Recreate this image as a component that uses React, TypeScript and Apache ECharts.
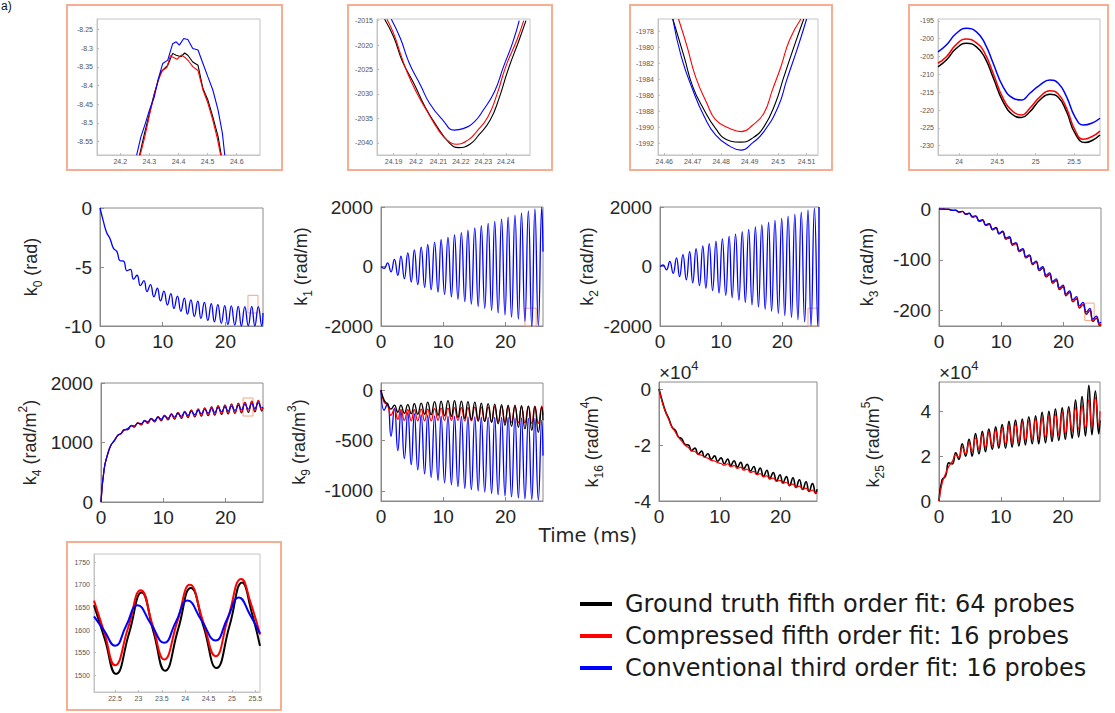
import React, { useEffect, useRef } from 'react';
import * as echarts from 'echarts';

// ---------- shared time samples (ms) for the main panels ----------
const T = [0, 0.5, 1.05, 1.6, 2.15, 2.7, 3.2, 3.75, 4.3, 4.85, 5.35, 5.9, 6.45, 7.0, 7.5, 8.05, 8.6, 9.15, 9.65, 10.2,
  10.75, 11.3, 11.8, 12.35, 12.9, 13.45, 13.95, 14.5, 15.05, 15.6, 16.1, 16.65, 17.2, 17.75, 18.25, 18.8, 19.35, 19.9, 20.4, 20.95,
  21.5, 22.05, 22.55, 23.1, 23.65, 24.2, 24.7, 25.25, 25.8, 26.0];

// ---------- main panel values ----------
const k0Blue = [0, -1.05, -2.07, -2.6, -3.42, -3.7, -4.47, -4.5, -5.32, -5.2, -6.03, -5.7, -6.58, -6.15, -7.08, -6.5, -7.52, -6.8, -7.87, -7.05,
  -8.22, -7.26, -8.51, -7.47, -8.75, -7.63, -8.99, -7.79, -9.18, -7.9, -9.36, -8.0, -9.53, -8.11, -9.65, -8.19, -9.77, -8.27, -9.87, -8.3,
  -9.92, -8.34, -9.99, -8.35, -9.98, -8.33, -9.99, -8.35, -9.98, -8.9];

const k1Blue = [0, -60, 120, -180, 240, -300, 350, -410, 460, -520, 560, -610, 650, -700, 740, -780, 820, -860, 900, -940,
  980, -1020, 1060, -1100, 1140, -1180, 1220, -1260, 1300, -1340, 1370, -1410, 1450, -1480, 1520, -1560, 1590, -1630, 1660, -1700,
  1730, -1770, 1800, -1840, 1870, -2040, 1940, -1990, 1990, 500];

const k2Blue = [0, 50, -110, 170, -230, 290, -340, 400, -450, 500, -550, 600, -640, 690, -730, 770, -810, 850, -890, 930,
  -970, 1010, -1050, 1090, -1130, 1170, -1210, 1250, -1290, 1330, -1360, 1400, -1440, 1480, -1510, 1550, -1580, 1620, -1650, 1690,
  -1720, 1760, -1790, 1830, -1860, 1900, -1993, 1960, -1990, 2000];

const k3Black = [0, 0, -0.7, -0.8, -2.8, -2.5, -6.3, -4.9, -10.5, -8.7, -16, -14.7, -24.5, -22.3, -32.4, -30, -41.2, -37.6, -49, -44.9,
  -59.3, -56.6, -71, -68.3, -83.8, -80.1, -96, -92.4, -109.2, -104.7, -121.4, -116.5, -133.6, -128.8, -145.8, -140.6, -158.5, -153, -170.6, -164.4,
  -182.7, -176.8, -194.8, -188.2, -206.9, -199.6, -221, -215, -229, -227];
const k3Red = [0, 0, -0.5, -0.6, -2.6, -2.3, -6.1, -4.7, -10.3, -8.5, -15.4, -14.1, -23.9, -21.7, -31.8, -29.4, -40.6, -37, -48.4, -44.3,
  -58.7, -56, -70.4, -67.7, -83.2, -79.5, -95.4, -91.8, -108.6, -104.1, -120.2, -115.3, -132.4, -127.6, -144.6, -139.4, -157.3, -151.8, -169.4, -163.2,
  -181.5, -175.6, -193.6, -187, -205.7, -198.4, -220.5, -214, -228, -225.9];
const k3Blue = [0, 0, -0.7, -0.8, -2.8, -2.5, -5.8, -4.4, -10, -8.2, -14.5, -13.2, -23, -20.8, -30.9, -28.5, -39.7, -36.1, -47.5, -43.4,
  -56.8, -54.1, -68.5, -65.8, -81.3, -77.6, -93.5, -89.9, -106.7, -102.2, -117.9, -113, -130.1, -125.3, -142.3, -137.1, -155, -149.5, -167.1, -160.9,
  -178.2, -172.3, -190.3, -183.7, -202.4, -195.1, -216.5, -210.5, -224.5, -222.5];

const k4Black = [0, 550, 795, 958, 1030, 1123, 1145, 1218, 1215, 1288, 1260, 1332, 1296, 1371, 1322, 1405, 1345, 1434, 1364, 1458,
  1380, 1482, 1394, 1503, 1407, 1523, 1419, 1543, 1431, 1562, 1441, 1580, 1451, 1598, 1461, 1614, 1471, 1629, 1480, 1644,
  1489, 1659, 1498, 1674, 1507, 1689, 1516, 1702, 1528, 1580];
const k4Red = [0, 550, 796, 957, 1031, 1122, 1147, 1216, 1217, 1286, 1263, 1329, 1299, 1368, 1326, 1402, 1350, 1431, 1372, 1456,
  1389, 1480, 1403, 1501, 1417, 1521, 1429, 1541, 1441, 1560, 1453, 1578, 1464, 1596, 1475, 1612, 1484, 1626, 1494, 1641,
  1503, 1656, 1512, 1671, 1521, 1695, 1538, 1710, 1545, 1590];
const k4Blue = [0, 550, 798, 954, 1035, 1117, 1153, 1209, 1233, 1277, 1281, 1322, 1318, 1363, 1347, 1396, 1371, 1423, 1392, 1444,
  1410, 1467, 1426, 1486, 1441, 1504, 1455, 1522, 1469, 1539, 1482, 1555, 1494, 1570, 1505, 1585, 1516, 1598, 1527, 1612,
  1538, 1625, 1548, 1639, 1559, 1652, 1570, 1665, 1580, 1600];

const k9Blue = [0, -200, -130, -460, -180, -600, -210, -680, -225, -740, -235, -790, -245, -830, -250, -865, -255, -895, -258, -920,
  -260, -940, -262, -958, -262, -975, -265, -988, -265, -1000, -268, -1012, -270, -1025, -270, -1037, -272, -1050, -272, -1060,
  -275, -1070, -275, -1078, -278, -1085, -280, -1090, -300, -650];
const k9Red = [0, -120, -150, -250, -190, -290, -195, -300, -195, -305, -195, -305, -190, -305, -190, -305, -185, -300, -180, -300,
  -180, -300, -175, -300, -175, -305, -175, -305, -170, -310, -170, -310, -170, -315, -165, -315, -165, -320, -165, -320,
  -165, -325, -165, -325, -160, -330, -160, -330, -160, -250];
const k9Black = [0, -100, -140, -190, -150, -220, -150, -230, -145, -235, -135, -240, -130, -240, -120, -245, -115, -250, -110, -255,
  -105, -260, -105, -270, -110, -280, -115, -290, -120, -300, -130, -310, -135, -320, -140, -335, -145, -350, -150, -360,
  -150, -370, -155, -385, -160, -400, -165, -420, -170, -300];

const k16Black = [0, -4000, -7900, -10500, -13600, -14800, -17100, -17800, -19800, -20000, -22000, -21100, -23300, -22200, -24300, -23100, -25100, -23900, -25800, -24600,
  -26700, -25000, -27300, -25600, -27900, -26200, -28500, -26900, -29300, -27700, -30400, -28200, -31200, -29000, -32000, -29800, -32800, -30600, -33500, -31300,
  -34500, -31700, -35200, -32400, -35900, -33100, -36600, -33800, -37300, -35800];
const k16Red = [0, -4500, -8100, -10900, -13700, -15400, -17300, -18600, -20100, -20900, -22100, -22300, -23400, -23600, -24400, -24700, -25500, -25700, -26300, -26600,
  -27200, -26700, -27800, -27300, -28400, -27900, -29000, -28600, -29800, -29400, -30600, -30200, -31400, -31000, -32200, -31800, -33000, -32600, -33700, -33300,
  -34400, -34000, -35100, -34700, -35800, -35400, -36500, -36100, -37200, -36900];

const k25Black = [0, 9500, 11000, 17000, 16500, 21500, 18500, 25500, 20000, 27500, 20000, 30000, 21000, 31000, 22000, 32000, 23000, 33000, 23500, 34000,
  23500, 35500, 24000, 36000, 24500, 36500, 25000, 37500, 25500, 38000, 25500, 39500, 26000, 40000, 26500, 41000, 27000, 41500, 27500, 42000,
  28000, 45000, 28500, 46500, 29000, 51500, 29500, 49000, 30000, 36000];
const k25Red = [0, 8000, 12000, 15500, 17500, 20500, 19500, 24000, 21000, 26000, 22000, 28000, 23000, 29500, 24000, 30500, 24500, 31500, 25000, 32500,
  25500, 33500, 26000, 34000, 26500, 35000, 27000, 35500, 27500, 36500, 28000, 37000, 28500, 38000, 29000, 38500, 29500, 39500, 30000, 40000,
  31000, 41500, 32000, 42500, 32500, 45000, 33000, 46000, 33500, 40000];

// ---------- zoom inset values [time, value] ----------
const ins0Black = [[24.266, -8.587], [24.283, -8.529], [24.3, -8.475], [24.317, -8.421], [24.34, -8.363], [24.363, -8.346], [24.38, -8.314], [24.392, -8.319], [24.409, -8.323], [24.421, -8.313], [24.432, -8.319], [24.449, -8.337], [24.467, -8.346], [24.484, -8.408], [24.501, -8.439], [24.518, -8.484], [24.536, -8.537], [24.547, -8.587]];
const ins0Red = [[24.268, -8.587], [24.285, -8.535], [24.3, -8.48], [24.315, -8.43], [24.33, -8.385], [24.345, -8.36], [24.36, -8.352], [24.372, -8.32], [24.385, -8.326], [24.395, -8.33], [24.41, -8.318], [24.422, -8.325], [24.435, -8.335], [24.45, -8.35], [24.467, -8.36], [24.484, -8.412], [24.5, -8.445], [24.517, -8.49], [24.533, -8.54], [24.545, -8.587]];
const ins0Blue = [[24.256, -8.587], [24.271, -8.537], [24.286, -8.502], [24.3, -8.466], [24.317, -8.43], [24.331, -8.381], [24.346, -8.341], [24.363, -8.332], [24.38, -8.288], [24.392, -8.283], [24.403, -8.292], [24.418, -8.274], [24.432, -8.277], [24.449, -8.301], [24.467, -8.305], [24.484, -8.341], [24.501, -8.377], [24.518, -8.412], [24.536, -8.466], [24.551, -8.529], [24.559, -8.587]];

const ins1Black = [[24.186, -2014.7], [24.19, -2018.3], [24.194, -2023.4], [24.199, -2027.8], [24.204, -2032.6], [24.209, -2036.4], [24.215, -2040.1], [24.219, -2041], [24.224, -2040.3], [24.228, -2038.4], [24.233, -2035.4], [24.237, -2030.9], [24.241, -2025.1], [24.246, -2018.9], [24.249, -2015]];
const ins1Red = [[24.187, -2014.7], [24.19, -2017.6], [24.193, -2021.7], [24.196, -2025.5], [24.2, -2029.5], [24.205, -2033.6], [24.21, -2037.4], [24.214, -2039.5], [24.218, -2040.3], [24.223, -2039.5], [24.227, -2037.7], [24.232, -2034.7], [24.236, -2030.2], [24.24, -2024.4], [24.245, -2018.9], [24.248, -2015]];
const ins1Blue = [[24.189, -2014.7], [24.193, -2018.6], [24.197, -2023.7], [24.202, -2028.2], [24.206, -2031.9], [24.212, -2035.4], [24.217, -2037.4], [24.221, -2037.1], [24.226, -2035.7], [24.23, -2033.3], [24.235, -2029.5], [24.239, -2024.4], [24.243, -2019.6], [24.246, -2015]];

const ins2Black = [[24.463, -1976.5], [24.467, -1981.2], [24.47, -1984.9], [24.474, -1987.8], [24.478, -1990.1], [24.482, -1991.5], [24.487, -1991.8], [24.491, -1991.3], [24.495, -1989.9], [24.499, -1987], [24.502, -1983.7], [24.506, -1979.5], [24.509, -1976.5]];
const ins2Red = [[24.465, -1976.5], [24.468, -1979.9], [24.471, -1983.7], [24.475, -1987], [24.478, -1989], [24.483, -1990.1], [24.487, -1990.5], [24.491, -1989.7], [24.495, -1988.2], [24.498, -1985.3], [24.501, -1982.4], [24.504, -1979.1], [24.508, -1976.5]];
const ins2Blue = [[24.463, -1976.5], [24.466, -1981.2], [24.47, -1985.3], [24.474, -1988.6], [24.478, -1990.9], [24.483, -1992.3], [24.487, -1992.8], [24.491, -1991.9], [24.495, -1990.5], [24.5, -1987.4], [24.503, -1984.1], [24.507, -1979.9], [24.51, -1976.5]];

const ins3Black = [[23.725, -207.9], [23.834, -206], [23.965, -202.7], [24.096, -201.3], [24.227, -202.3], [24.336, -205.3], [24.445, -210.9], [24.575, -217.7], [24.706, -221.4], [24.815, -222.1], [24.924, -220.5], [25.055, -217.2], [25.186, -215.6], [25.295, -216.4], [25.404, -220.5], [25.513, -226.5], [25.644, -229.1], [25.731, -228.6], [25.84, -227]];
const ins3Red = [[23.725, -206.9], [23.834, -205.1], [23.965, -201.6], [24.096, -200.1], [24.227, -201.2], [24.336, -204.1], [24.445, -209.7], [24.575, -216.7], [24.706, -220.5], [24.815, -221.4], [24.924, -219.5], [25.055, -216.3], [25.186, -214.6], [25.295, -215.5], [25.404, -219.5], [25.513, -225.6], [25.622, -228.2], [25.731, -227.5], [25.84, -225.9]];
const ins3Blue = [[23.725, -203.7], [23.834, -201.8], [23.965, -198.5], [24.096, -197.1], [24.227, -198.1], [24.336, -201.3], [24.445, -206.9], [24.575, -213.5], [24.706, -216.7], [24.815, -217.2], [24.924, -215.3], [25.055, -213], [25.186, -211.6], [25.295, -212.5], [25.404, -216.3], [25.513, -221.9], [25.622, -224.2], [25.731, -223.7], [25.84, -222.3]];

const ins4Black = [[22.05, 1655], [22.28, 1580], [22.52, 1503], [22.8, 1593], [23.07, 1683], [23.32, 1597], [23.57, 1510], [23.85, 1602], [24.12, 1693], [24.4, 1605], [24.67, 1516], [24.95, 1610], [25.22, 1705], [25.42, 1640], [25.6, 1565]];
const ins4Red = [[22.05, 1665], [22.27, 1595], [22.5, 1522], [22.78, 1605], [23.05, 1688], [23.3, 1612], [23.55, 1535], [23.83, 1618], [24.1, 1700], [24.38, 1620], [24.65, 1542], [24.92, 1628], [25.2, 1713], [25.4, 1660], [25.6, 1590]];
const ins4Blue = [[22.05, 1630], [22.27, 1598], [22.5, 1565], [22.74, 1610], [22.98, 1655], [23.27, 1613], [23.55, 1572], [23.8, 1618], [24.05, 1665], [24.35, 1621], [24.65, 1577], [24.9, 1625], [25.15, 1672], [25.38, 1635], [25.6, 1592]];

// zoom boxes [xMin, xMax, yMin, yMax]
const box0 = [23.6, 25.2, -8.9, -7.4];
const box1 = [23.1, 24.9, -2000, -1400];
const box2 = [24.2, 25.8, -2000, -1400];
const box3 = [23.4, 24.9, -219, -185];
const box4 = [22.8, 24.4, 1445, 1748];

const legendLabels = [
  'Ground truth fifth order fit: 64 probes',
  'Compressed fifth order fit: 16 probes',
  'Conventional third order fit: 16 probes',
];

const BLACK = '#000000';
const RED = '#ff0000';
const BLUE = '#0000ff';
const BOX = '#f4a582';
const FRAME = '#f6ad92';
const AX = '#8a8a8a';
const TXT = '#262626';
const FONT = '"Liberation Sans", Arial, sans-serif';
const WIDE = '"DejaVu Sans", Verdana, sans-serif';

const pairs = (xs: number[], ys: number[]) => xs.map((x, i) => [x, ys[i]]);
const plain = (v: number) => String(v);

function buildOption() {
  const grids: any[] = [];
  const xAxes: any[] = [];
  const yAxes: any[] = [];
  const series: any[] = [];

  const nameStyle = {
    fontSize: 18, color: TXT, fontFamily: FONT, lineHeight: 26,
    rich: {
      s: { fontSize: 12, color: TXT, fontFamily: FONT, verticalAlign: 'bottom' },
      p: { fontSize: 12, color: TXT, fontFamily: FONT, verticalAlign: 'top' },
    },
  };

  const addMain = (g: number[], ymin: number, ymax: number, yticks: number[], name: string, nameGap: number, fmt: (v: number) => string = plain) => {
    const i = grids.length;
    grids.push({ left: g[0], top: g[1], width: g[2], height: g[3], show: true, borderColor: AX, borderWidth: 1, backgroundColor: '#fff' });
    xAxes.push({
      type: 'value', gridIndex: i, min: 0, max: 26,
      axisLine: { show: true, onZero: false, lineStyle: { color: AX } },
      axisTick: { show: true, inside: true, length: 4, lineStyle: { color: AX }, customValues: [0, 10, 20] },
      axisLabel: { show: true, customValues: [0, 10, 20], color: TXT, fontSize: 19, fontFamily: FONT, margin: 6, formatter: plain },
      splitLine: { show: false },
    });
    yAxes.push({
      type: 'value', gridIndex: i, min: ymin, max: ymax,
      axisLine: { show: true, onZero: false, lineStyle: { color: AX } },
      axisTick: { show: true, inside: true, length: 4, lineStyle: { color: AX }, customValues: yticks },
      axisLabel: { show: true, customValues: yticks, color: TXT, fontSize: 19, fontFamily: FONT, margin: 8, formatter: fmt },
      splitLine: { show: false },
      name, nameLocation: 'middle', nameRotate: 90, nameGap, nameTextStyle: nameStyle,
    });
    return i;
  };

  const addInset = (g: number[], xr: number[], yr: number[], xt: number[], yt: number[]) => {
    const i = grids.length;
    grids.push({ left: g[0], top: g[1], width: g[2], height: g[3], show: true, borderColor: '#c4c4c4', borderWidth: 1, backgroundColor: '#fff' });
    const common = {
      axisLine: { show: true, onZero: false, lineStyle: { color: '#c4c4c4' } },
      splitLine: { show: false },
    };
    xAxes.push({
      type: 'value', gridIndex: i, min: xr[0], max: xr[1], ...common,
      axisTick: { show: true, inside: true, length: 2, lineStyle: { color: '#bbb' }, customValues: xt },
      axisLabel: { show: true, customValues: xt, color: '#555', fontSize: 7, fontFamily: FONT, margin: 3, formatter: plain },
    });
    yAxes.push({
      type: 'value', gridIndex: i, min: yr[0], max: yr[1], ...common,
      axisTick: { show: true, inside: true, length: 2, lineStyle: { color: '#bbb' }, customValues: yt },
      axisLabel: { show: true, customValues: yt, color: '#555', fontSize: 7, fontFamily: FONT, margin: 4, formatter: plain },
    });
    return i;
  };

  const line = (idx: number, color: string, data: any[], extra: any = {}) => ({
    type: 'line', xAxisIndex: idx, yAxisIndex: idx, data, symbol: 'none', silent: true,
    lineStyle: { color, width: 1.1 }, itemStyle: { color }, z: 3, ...extra,
  });
  // main-panel oscillating traces: rounded (sinusoid-like) peaks
  const wave = (idx: number, color: string, data: any[], width: number, extra: any = {}) =>
    line(idx, color, data, { smooth: 0.5, lineStyle: { color, width }, ...extra });
  const mark = (b: number[]) => ({
    markArea: {
      silent: true,
      itemStyle: { color: 'rgba(0,0,0,0)', borderColor: BOX, borderWidth: 1 },
      data: [[{ coord: [b[0], b[3]] }, { coord: [b[1], b[2]] }]],
    },
  });

  // main row 1
  const g0 = addMain([100, 208, 163, 118], -10, 0, [-10, -5, 0], 'k{s|0} (rad)', 56);
  series.push(wave(g0, BLUE, pairs(T, k0Blue), 1.3, mark(box0)));
  const g1 = addMain([381, 207, 162, 119], -2000, 2000, [-2000, 0, 2000], 'k{s|1} (rad/m)', 67);
  series.push(wave(g1, BLUE, pairs(T, k1Blue), 1.3, mark(box1)));
  const g2 = addMain([660, 207, 159, 119], -2000, 2000, [-2000, 0, 2000], 'k{s|2} (rad/m)', 56);
  series.push(wave(g2, BLUE, pairs(T, k2Blue), 1.3, mark(box2)));
  const g3 = addMain([939, 208, 162, 118], -230, 2, [-200, -100, 0], 'k{s|3} (rad/m)', 59);
  series.push(wave(g3, BLACK, pairs(T, k3Black), 1.2));
  series.push(wave(g3, RED, pairs(T, k3Red), 1.2));
  series.push(wave(g3, BLUE, pairs(T, k3Blue), 1.2, mark(box3)));

  // main row 2
  const g4 = addMain([101, 383, 162, 119], 0, 2000, [0, 1000, 2000], 'k{s|4} (rad/m{p|2})', 58);
  series.push(wave(g4, BLACK, pairs(T, k4Black), 1.2));
  series.push(wave(g4, RED, pairs(T, k4Red), 1.2));
  series.push(wave(g4, BLUE, pairs(T, k4Blue), 1.2, mark(box4)));
  const g5 = addMain([381, 383, 162, 118], -1100, 70, [-1000, -500, 0], 'k{s|9} (rad/m{p|3})', 69);
  series.push(wave(g5, BLUE, pairs(T, k9Blue), 1.3));
  series.push(wave(g5, RED, pairs(T, k9Red), 1.3));
  series.push(wave(g5, BLACK, pairs(T, k9Black), 1.3));
  const g6 = addMain([659, 382, 158, 119], -40000, 2500, [-40000, -20000, 0], 'k{s|16} (rad/m{p|4})', 54, (v: number) => String(v / 10000));
  series.push(wave(g6, BLACK, pairs(T, k16Black), 1.6));
  series.push(wave(g6, RED, pairs(T, k16Red), 1.2));
  const g7 = addMain([939, 382, 161, 119], 0, 53000, [0, 20000, 40000], 'k{s|25} (rad/m{p|5})', 53, (v: number) => String(v / 10000));
  series.push(wave(g7, BLACK, pairs(T, k25Black), 1.6));
  series.push(wave(g7, RED, pairs(T, k25Red), 1.3));

  // insets
  const i0 = addInset([97, 19, 163, 136], [24.12, 24.68], [-8.586, -8.222], [24.2, 24.3, 24.4, 24.5, 24.6], [-8.55, -8.5, -8.45, -8.4, -8.35, -8.3, -8.25]);
  series.push(line(i0, BLACK, ins0Black));
  series.push(line(i0, RED, ins0Red));
  series.push(line(i0, BLUE, ins0Blue));
  const i1 = addInset([377, 19, 153, 136], [24.1826, 24.2508], [-2042.5, -2014.66], [24.19, 24.2, 24.21, 24.22, 24.23, 24.24], [-2040, -2035, -2030, -2025, -2020, -2015]);
  series.push(line(i1, BLACK, ins1Black, { smooth: true }));
  series.push(line(i1, RED, ins1Red, { smooth: true }));
  series.push(line(i1, BLUE, ins1Blue, { smooth: true }));
  const i2 = addInset([658, 19, 160, 136], [24.4578, 24.514], [-1993.4, -1976.5], [24.46, 24.47, 24.48, 24.49, 24.5, 24.51], [-1992, -1990, -1988, -1986, -1984, -1982, -1980, -1978]);
  series.push(line(i2, BLACK, ins2Black, { smooth: true }));
  series.push(line(i2, RED, ins2Red, { smooth: true }));
  series.push(line(i2, BLUE, ins2Blue, { smooth: true }));
  const i3 = addInset([938, 19, 162, 136], [23.725, 25.84], [-232.6, -194.5], [24, 24.5, 25, 25.5], [-230, -225, -220, -215, -210, -205, -200, -195]);
  series.push(line(i3, BLACK, ins3Black, { smooth: true, lineStyle: { color: BLACK, width: 1.5 } }));
  series.push(line(i3, RED, ins3Red, { smooth: true, lineStyle: { color: RED, width: 1.5 } }));
  series.push(line(i3, BLUE, ins3Blue, { smooth: true, lineStyle: { color: BLUE, width: 1.5 } }));
  const i4 = addInset([94, 554, 166, 138], [22.05, 25.6], [1463, 1768], [22.5, 23, 23.5, 24, 24.5, 25, 25.5], [1500, 1550, 1600, 1650, 1700, 1750]);
  series.push(line(i4, BLACK, ins4Black, { smooth: true, lineStyle: { color: BLACK, width: 2 } }));
  series.push(line(i4, RED, ins4Red, { smooth: true, lineStyle: { color: RED, width: 2 } }));
  series.push(line(i4, BLUE, ins4Blue, { smooth: true, lineStyle: { color: BLUE, width: 2 } }));

  const frame = (x: number, y: number, w: number, h: number) => ({
    type: 'rect', shape: { x, y, width: w, height: h }, style: { fill: 'none', stroke: FRAME, lineWidth: 2 }, z: 10, silent: true,
  });
  const legendColors = [BLACK, RED, BLUE];
  const legendY = [604, 636, 668];
  const graphic: any[] = [
    frame(67, 5, 215, 165),
    frame(348, 5, 204, 165),
    frame(630, 5, 202, 165),
    frame(909, 5, 199, 165),
    frame(67, 542, 214, 168),
    { type: 'text', x: 1, y: 0, style: { text: 'a)', fontSize: 12, fontFamily: FONT, fill: '#111' } },
    { type: 'text', x: 588, y: 535, style: { text: 'Time (ms)', fontSize: 19.5, fontFamily: WIDE, fill: TXT, align: 'center', verticalAlign: 'middle' } },
    { type: 'text', x: 659, y: 372, style: { text: '×10{p|4}', fontSize: 19, fontFamily: FONT, fill: TXT, verticalAlign: 'middle', rich: { p: { fontSize: 13, fontFamily: FONT, fill: TXT, verticalAlign: 'top' } }, lineHeight: 26 } },
    { type: 'text', x: 939, y: 372, style: { text: '×10{p|4}', fontSize: 19, fontFamily: FONT, fill: TXT, verticalAlign: 'middle', rich: { p: { fontSize: 13, fontFamily: FONT, fill: TXT, verticalAlign: 'top' } }, lineHeight: 26 } },
  ];
  legendLabels.forEach((label, k) => {
    graphic.push({ type: 'line', shape: { x1: 580, y1: legendY[k], x2: 612, y2: legendY[k] }, style: { stroke: legendColors[k], lineWidth: 4 } });
    graphic.push({ type: 'text', x: 625, y: legendY[k], style: { text: label, fontSize: 24, fontFamily: WIDE, fill: '#1a1a1a', verticalAlign: 'middle' } });
  });

  return {
    animation: false,
    backgroundColor: '#ffffff',
    grid: grids,
    xAxis: xAxes,
    yAxis: yAxes,
    series,
    graphic,
  };
}

export default function App() {
  const ref = useRef<HTMLDivElement>(null);
  useEffect(() => {
    document.body.style.margin = '0';
    const chart = echarts.init(ref.current!, null, { renderer: 'svg' });
    chart.setOption(buildOption() as any);
    return () => chart.dispose();
  }, []);
  return <div ref={ref} style={{ width: 1115, height: 713, background: '#fff' }} />;
}
